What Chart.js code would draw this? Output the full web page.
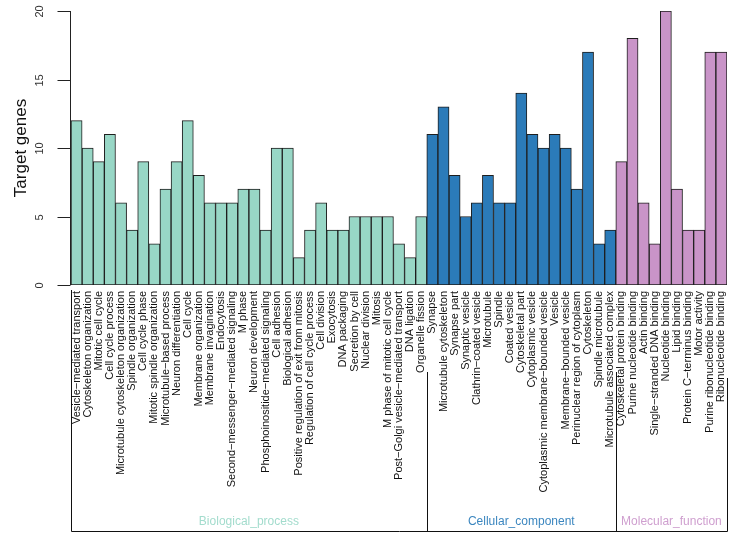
<!DOCTYPE html>
<html>
<head>
<meta charset="utf-8">
<script src="https://cdn.jsdelivr.net/npm/chart.js@4/dist/chart.umd.min.js"></script>
<style>
  body { margin: 0; background: #fff; }
  #wrap { width: 735px; height: 539px; }
</style>
</head>
<body>
<div id="wrap"><canvas id="grafica"></canvas></div>
<script>
// categorias y valores por grupo GO
const bpLabels = ["Vesicle\u2212mediated transport", "Cytoskeleton organization", "Mitotic cell cycle", "Cell cycle process",
  "Microtubule cytoskeleton organization", "Spindle organization", "Cell cycle phase", "Mitotic spindle organization",
  "Microtubule\u2212based process", "Neuron differentiation", "Cell cycle", "Membrane organization", "Membrane invagination",
  "Endocytosis", "Second\u2212messenger\u2212mediated signaling", "M phase", "Neuron development",
  "Phosphoinositide\u2212mediated signaling", "Cell adhesion", "Biological adhesion", "Positive regulation of exit from mitosis",
  "Regulation of cell cycle process", "Cell division", "Exocytosis", "DNA packaging", "Secretion by cell", "Nuclear division",
  "Mitosis", "M phase of mitotic cell cycle", "Post\u2212Golgi vesicle\u2212mediated transport", "DNA ligation", "Organelle fission"];
const bpValues = [12, 10, 9, 11, 6, 4, 9, 3, 7, 9, 12, 8, 6, 6, 6, 7, 7, 4, 10, 10, 2, 4, 6, 4, 4, 5, 5, 5, 5, 3, 2, 5];

const ccLabels = ["Synapse", "Microtubule cytoskeleton", "Synapse part", "Synaptic vesicle", "Clathrin\u2212coated vesicle",
  "Microtubule", "Spindle", "Coated vesicle", "Cytoskeletal part", "Cytoplasmic vesicle", "Cytoplasmic membrane\u2212bounded vesicle",
  "Vesicle", "Membrane\u2212bounded vesicle", "Perinuclear region of cytoplasm", "Cytoskeleton", "Spindle microtubule",
  "Microtubule associated complex"];
const ccValues = [11, 13, 8, 5, 6, 8, 6, 6, 14, 11, 10, 11, 10, 7, 17, 3, 4];

const mfLabels = ["Cytoskeletal protein binding", "Purine nucleotide binding", "Actin binding", "Single\u2212stranded DNA binding",
  "Nucleotide binding", "Lipid binding", "Protein C\u2212terminus binding", "Motor activity", "Purine ribonucleotide binding",
  "Ribonucleotide binding"];
const mfValues = [9, 18, 6, 3, 20, 7, 4, 4, 17, 17];

const groupNames = ["Biological_process", "Cellular_component", "Molecular_function"];
const yTicks = [0, 5, 10, 15, 20];

const colores = ["#98d7c6", "#2b7bb9", "#c994c8"];
const coloresTexto = ["#a3dccd", "#3b86bf", "#cf9fcf"];
const fuente = "'Liberation Sans', Arial, sans-serif";

const etiquetas = bpLabels.concat(ccLabels, mfLabels);
const valores = bpValues.concat(ccValues, mfValues);
const grupos = [bpLabels.length, ccLabels.length, mfLabels.length];
const fondo = [];
grupos.forEach((n, g) => { for (let i = 0; i < n; i++) fondo.push(colores[g]); });

// eje Y estilo R y corchetes de grupos
const pluginDibujo = {
    id: 'dibujo',
    afterDraw(chart) {
        const ctx = chart.ctx;
        const y = chart.scales.y;
        const area = chart.chartArea;
        ctx.save();
        ctx.strokeStyle = "#222";
        ctx.lineWidth = 1;

        // eje y
        const ax = Math.round(area.left) - 0.5;
        ctx.beginPath();
        ctx.moveTo(ax, y.getPixelForValue(0));
        ctx.lineTo(ax, y.getPixelForValue(20));
        ctx.stroke();
        ctx.fillStyle = "#333";
        ctx.font = "11px " + fuente;
        ctx.textAlign = "center";
        ctx.textBaseline = "middle";
        yTicks.forEach(v => {
            const py = Math.round(y.getPixelForValue(v)) + 0.5;
            ctx.beginPath();
            ctx.moveTo(ax - 13, py);
            ctx.lineTo(ax, py);
            ctx.stroke();
            ctx.save();
            ctx.translate(40, py);
            ctx.rotate(-Math.PI / 2);
            ctx.fillText(String(v), 0, 0);
            ctx.restore();
        });
        // titulo eje y
        ctx.save();
        ctx.fillStyle = "#111";
        ctx.font = "17px " + fuente;
        ctx.translate(21, (y.getPixelForValue(0) + y.getPixelForValue(20)) / 2);
        ctx.rotate(-Math.PI / 2);
        ctx.fillText("Target genes", 0, 0);
        ctx.restore();

        // corchetes
        const ancho = (area.right - area.left) / etiquetas.length;
        const bordes = [area.left];
        let acum = 0;
        grupos.forEach(n => { acum += n; bordes.push(area.left + acum * ancho); });
        const inicios = [290, 372, 372, 378];
        const fondoY = 531.5;
        ctx.strokeStyle = "#111";
        bordes.forEach((bx, i) => {
            const px = Math.round(bx) + 0.5;
            ctx.beginPath();
            ctx.moveTo(px, inicios[i]);
            ctx.lineTo(px, fondoY);
            ctx.stroke();
        });
        ctx.beginPath();
        ctx.moveTo(Math.round(bordes[0]) + 0.5, fondoY);
        ctx.lineTo(Math.round(bordes[3]) + 0.5, fondoY);
        ctx.stroke();

        ctx.font = "12px " + fuente;
        groupNames.forEach((nombre, g) => {
            ctx.fillStyle = coloresTexto[g];
            ctx.fillText(nombre, (bordes[g] + bordes[g + 1]) / 2, 522);
        });
        ctx.restore();
    }
};

new Chart(document.getElementById('grafica').getContext('2d'), {
    type: 'bar',
    data: {
        labels: etiquetas,
        datasets: [{
            data: valores,
            backgroundColor: fondo,
            borderColor: "#1e1e1e",
            borderWidth: 1,
            borderSkipped: false,
            barPercentage: 1,
            categoryPercentage: 1
        }]
    },
    options: {
        responsive: true,
        maintainAspectRatio: false,
        animation: false,
        layout: { padding: { top: 11, right: 8, left: 0, bottom: 0 } },
        plugins: { legend: { display: false }, tooltip: { enabled: false } },
        scales: {
            x: {
                grid: { display: false, drawTicks: false },
                border: { display: false },
                ticks: {
                    autoSkip: false,
                    minRotation: 90,
                    maxRotation: 90,
                    padding: 6,
                    color: "#111",
                    font: { family: fuente, size: 11 }
                },
                afterFit(scale) {
                    scale.height = 254;
                    scale.paddingLeft = 0;
                    scale.paddingRight = 0;
                }
            },
            y: {
                min: 0,
                max: 20,
                grid: { display: false },
                border: { display: false },
                ticks: { display: false },
                afterFit(scale) { scale.width = 71; }
            }
        }
    },
    plugins: [pluginDibujo]
});
</script>
</body>
</html>
